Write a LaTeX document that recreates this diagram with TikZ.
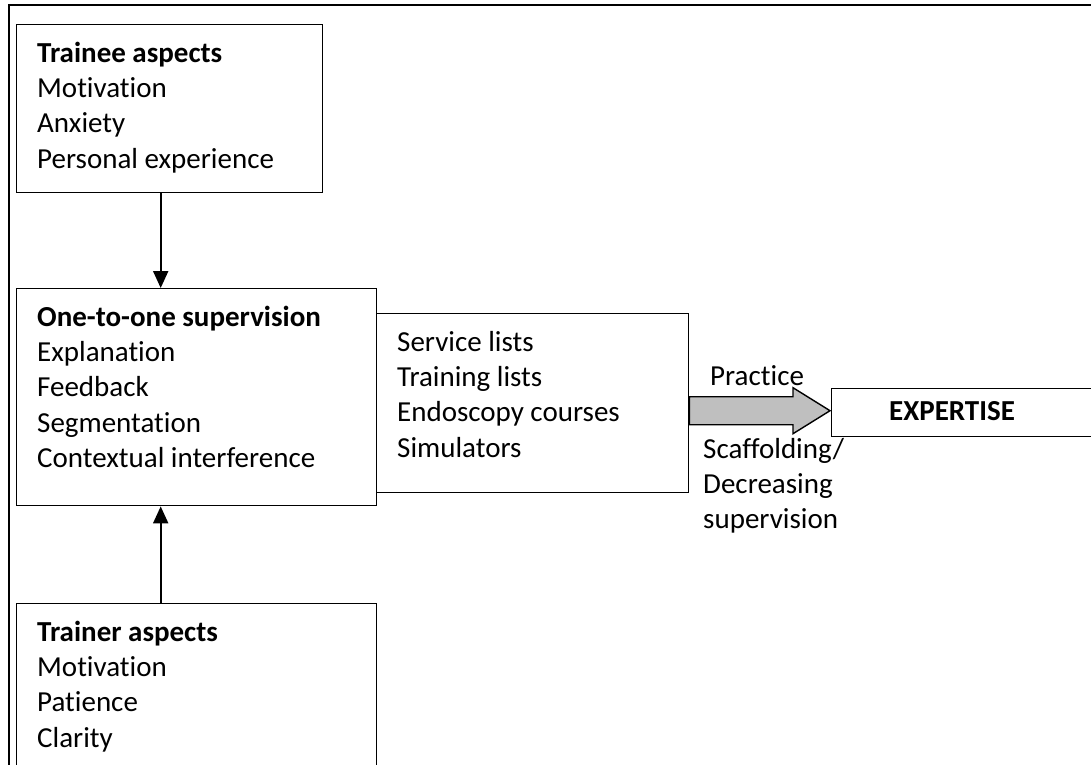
\documentclass[tikz,border=0pt]{standalone}
\usepackage{fontspec}
\setmainfont{Carlito}[Ligatures={NoCommon}]
\usetikzlibrary{calc,arrows.meta}
\definecolor{arrowgrey}{RGB}{191,191,191}
\begin{document}
\begin{tikzpicture}[x=1pt,y=-1pt,
  box/.style={draw,line width=1.4pt,inner sep=0,anchor=north west},
  txt/.style={anchor=base west,inner sep=0,font=\fontsize{29}{35.4}\selectfont},
  link/.style={line width=2pt,-{Triangle[width=15pt,length=17pt]}}]
\useasboundingbox (0,0) rectangle (1091,764);

% outer frame, running past the page on the right and at the bottom
\node[box,line width=1.6pt,minimum width=1110,minimum height=790] (frame) at (8,4) {};

% boxes
\node[box,minimum width=306,minimum height=168] (trainee) at (16,24) {};
\node[box,minimum width=360,minimum height=217] (sup) at (16,288) {};
\node[box,minimum width=312,minimum height=179] (res) at (376,313) {};
\node[box,minimum width=360,minimum height=200] (trainer) at (16,603) {};
\node[box,minimum width=290,minimum height=48] (exp) at (831,388) {};

% box texts
\node[txt] (traineetxt) at (37,62) {\begin{tabular}[t]{@{}l@{}}\textbf{Trainee aspects}\\Motivation\\Anxiety\\Personal experience\end{tabular}};
\node[txt] (suptxt) at (37,326) {\begin{tabular}[t]{@{}l@{}}\textbf{One-to-one supervision}\\Explanation\\Feedback\\Segmentation\\Contextual interference\end{tabular}};
\node[txt] (restxt) at (397,351) {\begin{tabular}[t]{@{}l@{}}Service lists\\Training lists\\Endoscopy courses\\Simulators\end{tabular}};
\node[txt] (trainertxt) at (37,641) {\begin{tabular}[t]{@{}l@{}}\textbf{Trainer aspects}\\Motivation\\Patience\\Clarity\end{tabular}};
\node[txt] (exptxt) at (889,420) {\textbf{EXPERTISE}};

% labels of the broad arrow
\node[txt] (practice) at (710,385) {Practice};
\node[txt] (scaffold) at (703,458) {\begin{tabular}[t]{@{}l@{}}Scaffolding/\\Decreasing\\supervision\end{tabular}};

% connectors
\draw[link] ($(trainee.south west)+(144.7,0)$) -- ($(sup.north west)+(144.7,0)$);
\draw[link] ($(trainer.north west)+(144.7,0)$) -- ($(sup.south west)+(144.7,0)$);

% broad grey arrow towards expertise
\coordinate (tip) at ($(exp.west)+(-1,-2)$);
\draw[line width=1.4pt,fill=arrowgrey,line join=miter]
  ($(res.east |- tip)+(0,-14)$) -- ($(tip)+(-37,-14)$) --
  ($(tip)+(-37,-23)$) -- (tip) --
  ($(tip)+(-37,23)$) -- ($(tip)+(-37,14)$) --
  ($(res.east |- tip)+(0,14)$) -- cycle;
\end{tikzpicture}
\end{document}
